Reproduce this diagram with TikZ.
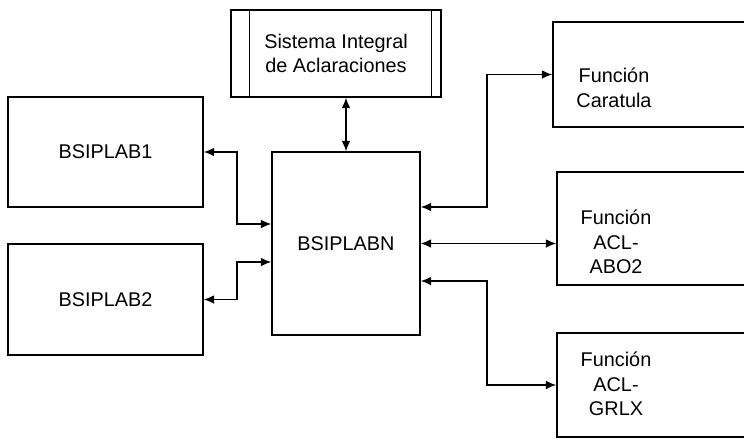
\documentclass[tikz,border=0pt]{standalone}
\usepackage{fontspec}
\setmainfont{Liberation Sans}
\usetikzlibrary{arrows.meta}
\begin{document}
\begin{tikzpicture}[>={Latex[length=6pt,width=5pt]},x=0.02cm,y=-0.02cm,line width=0.8pt,
    every node/.style={font=\fontsize{11.3}{14}\selectfont},
    caja/.style={draw,inner sep=0pt}]
  \clip (0,0) rectangle (744,441);
  \node[caja,minimum width=4.2cm,minimum height=1.74cm,align=center] (sia) at (336,53.5) {Sistema Integral\\de Aclaraciones};
  \draw ([xshift=0.38cm]sia.north west) -- ([xshift=0.38cm]sia.south west);
  \draw ([xshift=-0.2cm]sia.north east) -- ([xshift=-0.2cm]sia.south east);
  \node[caja,minimum width=3.9cm,minimum height=2.2cm] (b1) at (105.5,152) {BSIPLAB1};
  \node[caja,minimum width=3.9cm,minimum height=2.22cm] (b2) at (105.5,299.5) {BSIPLAB2};
  \node[caja,minimum width=2.96cm,minimum height=3.66cm] (bn) at (346,243.5) {BSIPLABN};
  % las cajas de la derecha se salen de la hoja
  \node[caja,minimum width=4.2cm,minimum height=2.1cm] (car) at (658,74.5) {};
  \node[caja,minimum width=4.2cm,minimum height=2.26cm] (ab) at (662,228.5) {};
  \node[caja,minimum width=4.2cm,minimum height=2.08cm] (gr) at (662,385) {};
  \node[align=center] (cart) at (614,88) {Función\\Caratula};
  \node[align=center] (abt) at (616,242) {Función\\ACL-\\ABO2};
  \node[align=center] (grt) at (616,384) {Función\\ACL-\\GRLX};
  \coordinate (j1) at (237,224);
  \coordinate (j2) at (237,262);
  \coordinate (j3) at (487,207);
  \coordinate (j4) at (487,281);
  \draw[<->] (bn.north) -- (bn.north |- sia.south);
  \draw[<->] (b1.east) -| (j1) -- (j1 -| bn.west);
  \draw[<->] (b2.east) -| (j2) -- (j2 -| bn.west);
  \draw[<->] (j3 -| bn.east) -- (j3) |- (car.west);
  \draw[<->] (bn.east) -- (bn.east -| ab.west);
  \draw[<->] (j4 -| bn.east) -- (j4) |- (gr.west);
\end{tikzpicture}
\end{document}
